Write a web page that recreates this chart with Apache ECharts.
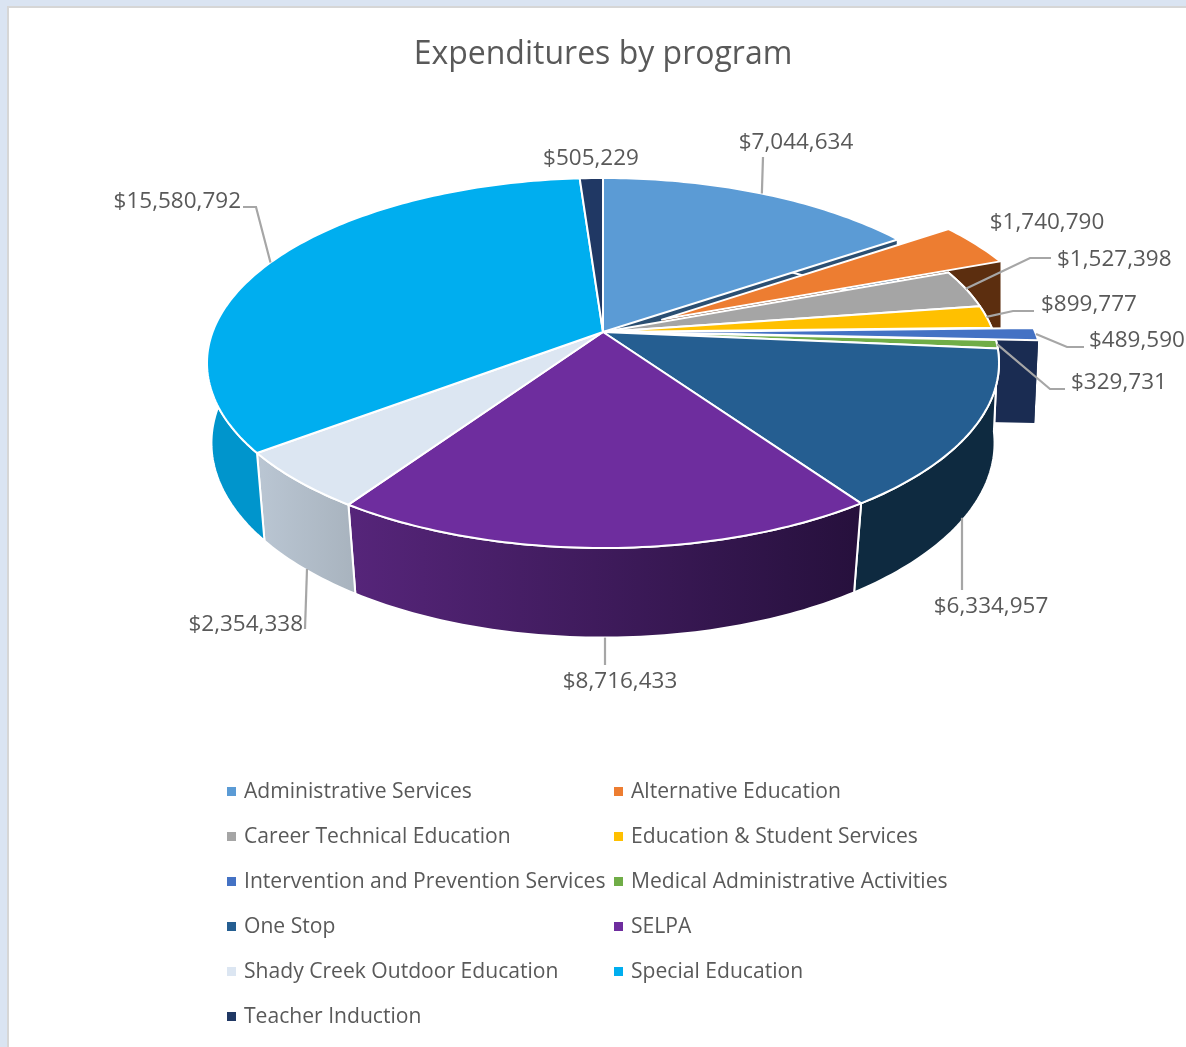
<!DOCTYPE html>
<html>
<head>
<meta charset="utf-8">
<style>
html,body{margin:0;padding:0;width:1186px;height:1047px;overflow:hidden;background:#dae4f2;}
#panel{position:absolute;left:7px;top:6px;width:1179px;height:1041px;background:#fff;border-left:2px solid #d6d6d6;border-top:2px solid #d6d6d6;box-sizing:border-box;}
#chart{position:absolute;left:0;top:0;width:1186px;height:1047px;}
</style>
<script src="https://cdn.jsdelivr.net/npm/echarts@6/dist/echarts.min.js"></script>
</head>
<body>
<div id="panel"></div>
<div id="chart"></div>
<script>
// ---- data ----
const categories = ['Administrative Services','Alternative Education','Career Technical Education','Education & Student Services','Intervention and Prevention Services','Medical Administrative Activities','One Stop','SELPA','Shady Creek Outdoor Education','Special Education','Teacher Induction'];
const values = [7044634,1740790,1527398,899777,489590,329731,6334957,8716433,2354338,15580792,505229];
const explode = [0,0.168,0,0,0.107,0,0,0,0,0,0];
const explodeTurn = [0,0.05,0,0,0,0,0,0,0,0,0];

// ---- styles ----
const topColors = ['#5b9bd5','#ed7d31','#a5a5a5','#ffc000','#4472c4','#70ad47','#255e91','#6e2d9e','#dce6f2','#00aeef','#203864'];
const sideFrom = ['#2b4f72','#5c2e0f','#636363','#997300','#1a2c52','#43682b','#0e2a40','#56257a','#bac6d3','#0095cc','#13223c'];
const sideTo   = ['#2b4f72','#5c2e0f','#636363','#997300','#1a2c52','#43682b','#0e2a40','#26103c','#a8b3be','#0095cc','#13223c'];
const FONT = '"Open Sans", "Noto Sans", sans-serif';
const TEXT = '#595959';

// ---- perspective of the disc (layout) ----
const P = {cx:603, cy:332, B:390.4, A:179.8, k:0.1676, m:0.008, d:0.0195, C:83};
function project(u, v, h){
  const w = 1 - P.k*v + (P.m + P.d*v)*h;
  return [P.cx + P.B*u/w, P.cy + (P.A*v + P.C*h)/w];
}

// ---- data label layout: text anchor + optional leader bend/end ----
const labelLayout = [
  {x:796,y:143,align:'center',line:[[763,157]],from:'top'},
  {x:1047,y:223,align:'center'},
  {x:1057,y:260,align:'left',line:[[1030,258],[1051,258]],from:'top'},
  {x:1041,y:305,align:'left',line:[[1013,311],[1034,311]],from:'top'},
  {x:1089,y:341,align:'left',line:[[1067,347],[1084,347]],from:'top'},
  {x:1071,y:383,align:'left',line:[[1050,389],[1065,389]],from:'top'},
  {x:991,y:607,align:'center',line:[[962,590]],from:'bottom',snapX:962},
  {x:620,y:682,align:'center',line:[[605,665]],from:'bottom',snapX:605},
  {x:303,y:625,align:'right',line:[[305,629]],from:'bottom',snapX:307},
  {x:241,y:202,align:'right',line:[[256,207],[243,207]],from:'top'},
  {x:591,y:159,align:'center'}
];

const total = values.reduce((a,b)=>a+b,0);
const money = v => '$' + v.toLocaleString('en-US');

function renderSlice(index){
  return function(params, api){
    const value = api.value(0);
    let before = 0;
    for (let i=0;i<index;i++) before += values[i];
    const a0 = before/total*Math.PI*2;
    const a1 = (before+value)/total*Math.PI*2;
    const mid = (a0+a1)/2;
    const e = explode[index];
    const dir = mid + explodeTurn[index];
    const ox = e*Math.sin(dir), oy = -e*Math.cos(dir);
    const pt = (a,r,h)=>project(ox + r*Math.sin(a), oy - r*Math.cos(a), h);
    const steps = Math.max(2, Math.ceil((a1-a0)/(Math.PI/180)));
    const arcTop=[], arcBot=[];
    for (let s=0;s<=steps;s++){
      const a=a0+(a1-a0)*s/steps;
      arcTop.push(pt(a,1,0));
      arcBot.push(pt(a,1,1));
    }
    const tip=pt(0,0,0), tipB=pt(0,0,1);
    const xs=arcBot.concat(arcTop).map(p=>p[0]);
    const minX=Math.min.apply(null,xs), maxX=Math.max.apply(null,xs);
    const wallFill=new echarts.graphic.LinearGradient(minX,0,maxX,0,[
      {offset:0,color:sideFrom[index]},{offset:1,color:sideTo[index]}],true);
    const children=[];
    // visible cut face
    const cutEnd = mid < Math.PI ? arcTop.length-1 : 0;
    children.push({type:'polygon',z2:1+index,
      shape:{points:[tip,arcTop[cutEnd],arcBot[cutEnd],tipB]},
      style:{fill:sideFrom[index],stroke:null}});
    // outer wall
    children.push({type:'polygon',z2:20+index,
      shape:{points:arcTop.concat(arcBot.slice().reverse())},
      style:{fill:wallFill,stroke:e>0?null:'#ffffff',lineWidth:2,lineJoin:'round'}});
    // top face
    children.push({type:'polygon',z2:50+index,
      shape:{points:[tip].concat(arcTop)},
      style:{fill:topColors[index],stroke:'#ffffff',lineWidth:2,lineJoin:'round'}});
    // leader + label
    const L=labelLayout[index];
    if (L.line){
      const h=L.from==='bottom'?1:0;
      const anchor=pt(mid,1,h);
      if (L.snapX!=null) anchor[0]=L.snapX;
      children.push({type:'polyline',z2:80,
        shape:{points:[anchor].concat(L.line)},
        style:{fill:null,stroke:'#a6a6a6',lineWidth:2.2}});
    }
    children.push({type:'text',z2:90,
      style:{x:L.x,y:L.y,text:money(value),fill:TEXT,fontFamily:FONT,fontSize:22.5,
        align:L.align,verticalAlign:'middle'}});
    return {type:'group',children};
  };
}

const chart=echarts.init(document.getElementById('chart'),null,{renderer:'canvas',width:1186,height:1047});
const legendBase={orient:'vertical',selectedMode:false,icon:'rect',itemWidth:9,itemHeight:9,itemGap:24,padding:0,
  textStyle:{color:TEXT,fontFamily:FONT,fontSize:21.1,padding:[0,0,0,3]}};
chart.setOption({
  animation:false,
  backgroundColor:'transparent',
  color:topColors,
  title:{text:'Expenditures by program',left:598,top:34,textAlign:'center',
    textStyle:{color:TEXT,fontFamily:FONT,fontSize:32,fontWeight:'normal'}},
  legend:[
    Object.assign({},legendBase,{left:227,top:781,data:categories.filter((_,i)=>i%2===0)}),
    Object.assign({},legendBase,{left:614,top:781,data:categories.filter((_,i)=>i%2===1)})
  ],
  series:categories.map((name,i)=>({
    type:'custom',name:name,coordinateSystem:'none',silent:true,
    itemStyle:{color:topColors[i]},
    data:[[values[i]]],
    renderItem:renderSlice(i)
  }))
});
</script>
</body>
</html>
